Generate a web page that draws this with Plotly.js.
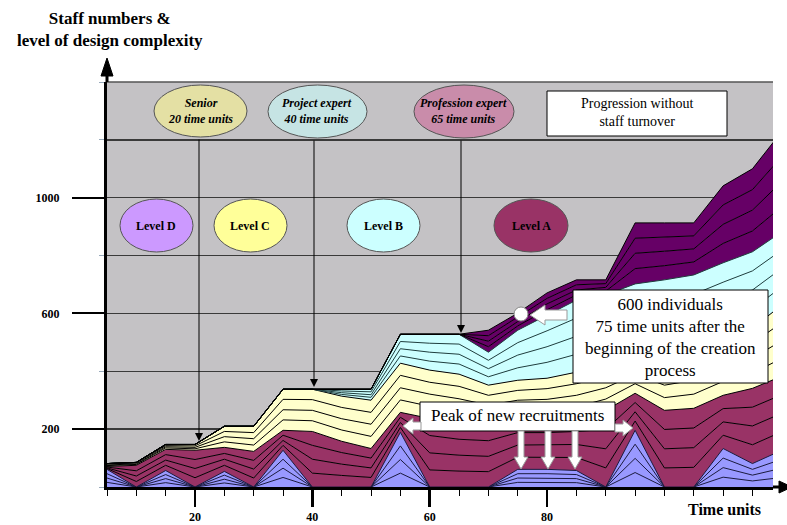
<!DOCTYPE html>
<html>
<head>
<meta charset="utf-8">
<script src="https://cdn.plot.ly/plotly-3.0.1.min.js"></script>
<style>html,body{margin:0;padding:0;background:#fff;}#chart{width:787px;height:525px;}</style>
</head>
<body>
<div id="chart"></div>
<script>
// ---- data (time units, stacked staff numbers per sub-cohort) ----
const timeUnits = [5,10,15,20,25,30,35,40,45,50,55,60,65,70,75,80,85,90,95,100,105,110,115,120];

const blue1 = [16,0,15,0,14,0,33,0,0,0,48,0,0,0,16,16,15,0,50,0,0,34,21,33];
const blue2 = [15,0,14,0,13,0,32,0,0,0,47,0,0,0,15,15,14,0,49,0,0,33,20,32];
const blue3 = [15,0,14,0,14,0,31,0,0,0,47,0,0,0,15,15,14,0,49,0,0,33,20,31];
const blue4 = [15,0,14,0,13,0,31,0,0,0,47,0,0,0,15,15,14,0,48,0,0,33,20,31];

const maroon1 = [3,19,18,32,21,31,17,48,40,33,17,59,55,53,42,42,45,66,32,66,68,46,65,64];
const maroon2 = [2,19,18,32,21,31,17,48,39,33,17,59,55,53,42,42,45,66,32,66,68,46,65,64];
const maroon3 = [3,18,19,31,20,30,18,48,40,34,18,60,55,54,43,43,45,67,32,67,68,46,65,64];
const maroon4 = [2,19,18,32,21,31,17,48,39,33,17,59,55,53,42,42,45,66,32,66,68,46,65,64];

const yellow1 = [3,3,5,5,19,22,36,37,39,42,43,42,43,35,35,37,40,39,33,44,49,48,52,62];
const yellow2 = [2,2,4,5,18,22,35,36,39,42,42,42,42,35,35,36,40,39,33,43,48,48,52,61];
const yellow3 = [3,3,4,5,18,21,36,37,39,41,43,41,43,34,34,37,40,39,33,43,49,47,52,62];
const yellow4 = [2,2,4,5,18,22,35,36,39,42,42,42,42,35,35,36,40,39,33,43,48,48,52,61];

const cyan1 = [0,0,0,0,0,0,0,0,6,10,25,31,35,29,43,55,62,61,62,70,67,67,66,63];
const cyan2 = [0,0,0,0,0,0,0,0,6,9,25,31,34,28,44,54,62,61,61,69,67,67,66,64];
const cyan3 = [0,0,0,0,0,0,0,0,6,10,25,31,35,29,43,55,63,60,62,70,66,66,66,63];
const cyan4 = [0,0,0,0,0,0,0,0,6,9,25,31,34,28,43,54,62,61,61,69,67,67,66,63];

const purple1 = [0,0,0,0,0,0,0,0,0,0,0,0,0,19,15,19,18,13,53,49,45,67,72,87];
const purple2 = [0,0,0,0,0,0,0,0,0,0,0,0,0,19,15,20,17,13,53,50,45,66,72,87];
const purple3 = [0,0,0,0,0,0,0,0,0,0,0,0,0,19,14,19,18,13,52,49,45,67,71,86];
const purple4 = [0,0,0,0,0,0,0,0,0,0,0,0,0,19,15,19,17,13,53,49,45,66,72,87];

const yTickVals = [200, 600, 1000];
const yTickText = ['200', '600', '1000'];
const xTickVals = [20, 40, 60, 80];
const xTickText = ['20', '40', '60', '80'];

// ---- styling ----
const groups = [
  {color: '#9999FF', line: '#1a1a40', series: [blue1, blue2, blue3, blue4]},
  {color: '#993366', line: '#000000', series: [maroon1, maroon2, maroon3, maroon4]},
  {color: '#FFFFCC', line: '#000000', series: [yellow1, yellow2, yellow3, yellow4]},
  {color: '#CCFFFF', line: '#1f3f3f', series: [cyan1, cyan2, cyan3, cyan4]},
  {color: '#660066', line: '#000000', series: [purple1, purple2, purple3, purple4]}
];

const traces = [];
groups.forEach(g => {
  g.series.forEach(s => {
    traces.push({
      x: timeUnits, y: s, type: 'scatter', mode: 'lines',
      stackgroup: 'staff', fill: 'tonexty', fillcolor: g.color,
      line: {color: g.line, width: 1}, hoverinfo: 'skip', showlegend: false
    });
  });
});

// pixel -> paper helpers (layout decorations only)
const L = 107, R = 773, T = 82, B = 487;
const PX = x => (x - L) / (R - L);
const PY = y => (B - y) / (B - T);
const path = pts => 'M' + pts.map(p => PX(p[0]) + ',' + PY(p[1])).join(' L') + ' Z';

const serif = 'Liberation Serif';
const shapes = [];
const annotations = [];

// top border of plot
shapes.push({type: 'line', xref: 'paper', yref: 'paper', x0: 0, x1: 1, y0: 1, y1: 1, line: {color: '#555', width: 1.5}});
// axis arrows
shapes.push({type: 'line', xref: 'paper', yref: 'paper', x0: 0, x1: 0, y0: 1, y1: PY(72), line: {color: '#000', width: 3}});
shapes.push({type: 'path', xref: 'paper', yref: 'paper', path: path([[107,58],[101,76],[113,76]]), fillcolor: '#000', line: {color: '#000', width: 1}});
shapes.push({type: 'line', xref: 'paper', yref: 'paper', x0: 1, x1: PX(782), y0: 0, y1: 0, line: {color: '#000', width: 3}});
shapes.push({type: 'path', xref: 'paper', yref: 'paper', path: path([[792,487],[779,481],[779,493]]), fillcolor: '#000', line: {color: '#000', width: 1}});

function ellipse(x0, x1, y0, y1, fill) {
  shapes.push({type: 'circle', xref: 'paper', yref: 'paper', x0: PX(x0), x1: PX(x1), y0: PY(y1), y1: PY(y0),
    fillcolor: fill, line: {color: '#555', width: 1}});
}
function text(x, y, t, size, extra) {
  annotations.push(Object.assign({xref: 'paper', yref: 'paper', x: PX(x), y: PY(y), text: t, showarrow: false,
    xanchor: 'center', yanchor: 'middle', font: {family: serif, size: size, color: '#000'}}, extra || {}));
}
function rect(x0, x1, y0, y1) {
  shapes.push({type: 'rect', xref: 'paper', yref: 'paper', x0: PX(x0), x1: PX(x1), y0: PY(y1), y1: PY(y0),
    fillcolor: '#FFFFFF', line: {color: '#000', width: 1}});
}
function vArrow(x, yStart, yTip) {
  annotations.push({xref: 'paper', yref: 'paper', x: PX(x), y: PY(yTip), ax: 0, ay: -(yTip - yStart), text: '',
    showarrow: true, arrowhead: 2, arrowsize: 1.6, arrowwidth: 1, arrowcolor: '#000'});
}
function whiteArrow(pts) {
  shapes.push({type: 'path', xref: 'paper', yref: 'paper', path: path(pts), fillcolor: '#FFFFFF', line: {color: '#999', width: 1}});
}

// top ellipses
ellipse(154, 247, 85, 137, '#E4E0A4');
ellipse(268, 367, 85, 138, '#C6E4E4');
ellipse(414, 514, 85, 138, '#C98CAA');
text(200, 111, '<b><i>Senior<br>20 time units</i></b>', 12);
text(317, 111, '<b><i>Project expert<br>40 time units</i></b>', 12);
text(463, 111, '<b><i>Profession expert<br>65 time units</i></b>', 12);
vArrow(199, 138, 441);
vArrow(314, 139, 387);
vArrow(461, 139, 333);

// progression box
rect(547, 727, 91, 136);
text(637, 113, 'Progression without<br>staff turnover', 14);

// level ellipses
ellipse(120, 193, 199, 252, '#CC99FF');
ellipse(214, 287, 199, 252, '#FFFF99');
ellipse(347, 420, 199, 252, '#CCFFFF');
ellipse(494, 568, 199, 252, '#993366');
text(156, 226, '<b>Level D</b>', 12);
text(250, 226, '<b>Level C</b>', 12);
text(383, 226, '<b>Level B</b>', 12);
text(531, 226, '<b>Level A</b>', 12);

// 600 individuals callout
rect(573, 768, 290, 383);
text(670, 337, '600 individuals<br>75 time units after the<br>beginning of the creation<br>process', 17);
whiteArrow([[530,315],[545,305],[545,310],[567,310],[567,320],[545,320],[545,325]]);
shapes.push({type: 'circle', xref: 'paper', yref: 'paper', x0: PX(514), x1: PX(528), y0: PY(321), y1: PY(307),
  fillcolor: '#FFFFFF', line: {color: '#888', width: 1}});

// peak of new recruitments callout
rect(420, 615, 402, 431);
text(517, 415, 'Peak of new recruitments', 17);
whiteArrow([[403,426],[413,418],[413,422],[421,422],[421,430],[413,430],[413,434]]);
whiteArrow([[615,424],[623,424],[623,420],[633,428],[623,436],[623,432],[615,432]]);
[521, 548, 575].forEach(x => whiteArrow([[x-3,431],[x+3,431],[x+3,457],[x+7,457],[x,469],[x-7,457],[x-3,457]]));

// titles
text(110, 29, '<b>Staff numbers &amp;<br>level of design complexity</b>', 17);
text(724, 510, '<b>Time units</b>', 16);

const layout = {
  width: 787, height: 525,
  margin: {l: L, r: 787 - R, t: T, b: 525 - B, pad: 0},
  paper_bgcolor: '#FFFFFF', plot_bgcolor: '#C4C2C5',
  showlegend: false,
  font: {family: serif},
  xaxis: {
    range: [5, 118.5], showgrid: false, zeroline: false,
    showline: true, linecolor: '#000', linewidth: 3,
    tickvals: xTickVals, ticktext: xTickText, ticks: 'outside', ticklen: 17, tickwidth: 2.5, tickcolor: '#000',
    tickfont: {family: serif, size: 12, color: '#000', weight: 700},
    minor: {dtick: 5, tick0: 0, ticks: 'outside', ticklen: 6, tickwidth: 1, tickcolor: '#000', showgrid: false}
  },
  yaxis: {
    range: [0, 1400], zeroline: false,
    showline: true, linecolor: '#000', linewidth: 3,
    tickvals: yTickVals, ticktext: yTickText, ticks: 'outside', ticklen: 32, tickwidth: 2, tickcolor: '#000',
    ticklabelstandoff: 10,
    tickfont: {family: serif, size: 12, color: '#000', weight: 700},
    showgrid: true, gridcolor: '#3a3a3a', gridwidth: 1.5,
    minor: {dtick: 200, tick0: 0, ticks: 'outside', ticklen: 5, tickwidth: 1, tickcolor: '#9ab', showgrid: true, gridcolor: '#3a3a3a', gridwidth: 1.5}
  },
  shapes: shapes,
  annotations: annotations
};

Plotly.newPlot('chart', traces, layout, {displayModeBar: false, staticPlot: true});
</script>
</body>
</html>
